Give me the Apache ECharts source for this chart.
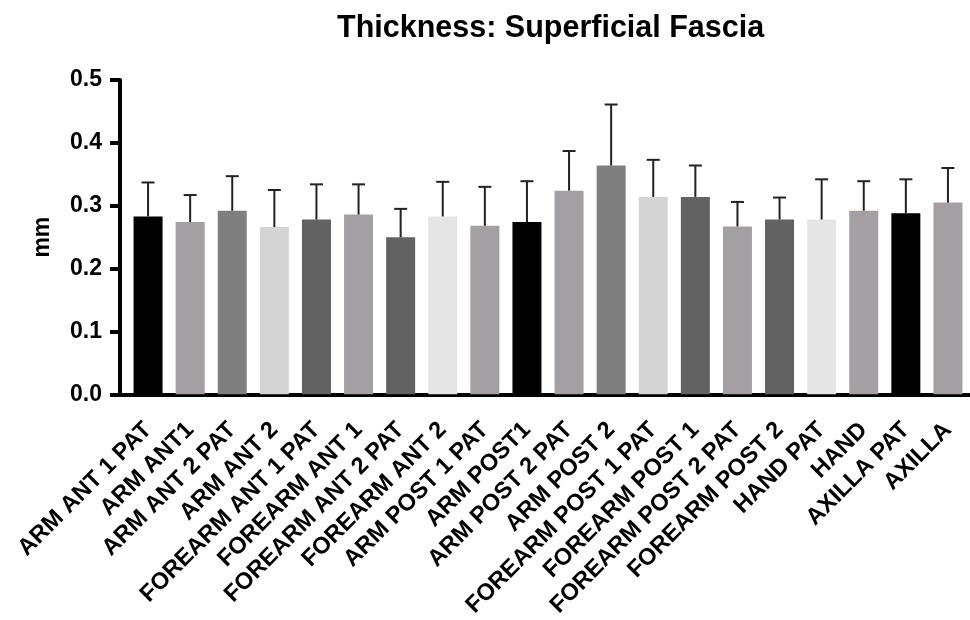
<!DOCTYPE html>
<html>
<head>
<meta charset="utf-8">
<script src="https://cdn.jsdelivr.net/npm/echarts@6/dist/echarts.min.js"></script>
<style>
  html, body { margin: 0; padding: 0; background: #fff; }
  #main { width: 970px; height: 620px; }
</style>
</head>
<body>
<div id="main"></div>
<script>
// site names along the x axis
var categories = ['ARM ANT 1 PAT', 'ARM ANT1', 'ARM ANT 2 PAT', 'ARM ANT 2', 'FOREARM ANT 1 PAT',
  'FOREARM ANT 1', 'FOREARM ANT 2 PAT', 'FOREARM ANT 2', 'ARM POST 1 PAT', 'ARM POST1',
  'ARM POST 2 PAT', 'ARM POST 2', 'FOREARM POST 1 PAT', 'FOREARM POST 1', 'FOREARM POST 2 PAT',
  'FOREARM POST 2', 'HAND PAT', 'HAND', 'AXILLA PAT', 'AXILLA'];
// mean thickness (mm)
var means = [0.283, 0.274, 0.292, 0.266, 0.278, 0.286, 0.250, 0.283, 0.268, 0.274,
  0.324, 0.364, 0.314, 0.314, 0.267, 0.278, 0.278, 0.292, 0.288, 0.305];
// standard deviation (upper whisker only)
var sds = [0.054, 0.043, 0.055, 0.059, 0.056, 0.048, 0.045, 0.055, 0.062, 0.065,
  0.063, 0.097, 0.059, 0.050, 0.039, 0.035, 0.064, 0.047, 0.054, 0.055];
var barColors = ['#000000', '#a39fa3', '#7f7f7f', '#d4d4d4', '#626262', '#a39fa3', '#626262', '#e5e5e5', '#a39fa3', '#000000',
  '#a39fa3', '#7f7f7f', '#d4d4d4', '#626262', '#a39fa3', '#626262', '#e5e5e5', '#a39fa3', '#000000', '#a39fa3'];
var yTicks = { min: 0, max: 0.5, interval: 0.1 };

var font = 'Liberation Sans, Arial, sans-serif';
var chart = echarts.init(document.getElementById('main'));

var barData = means.map(function (m, i) {
  return { value: m, itemStyle: { color: barColors[i] } };
});
var errData = means.map(function (m, i) {
  return [i, m, m + sds[i]];
});

var option = {
  animation: false,
  title: {
    text: 'Thickness: Superficial Fascia',
    left: 332,
    top: 8,
    textStyle: { fontFamily: font, fontWeight: 'bold', fontSize: 30.5, color: '#000' }
  },
  grid: { left: 127, right: 1, top: 80, bottom: 223, containLabel: false },
  // x axis line reaching back to the offset y axis
  graphic: [{
    type: 'rect',
    shape: { x: 118, y: 393, width: 11, height: 4 },
    style: { fill: '#000' }
  }],
  xAxis: {
    type: 'category',
    data: categories,
    axisLine: { lineStyle: { color: '#000', width: 4 } },
    axisTick: { alignWithLabel: true, length: 10, lineStyle: { color: '#000', width: 4 } },
    axisLabel: {
      rotate: 45, interval: 0, margin: 32,
      fontFamily: font, fontWeight: 'bold', fontSize: 23.5, color: '#000'
    }
  },
  yAxis: {
    type: 'value',
    min: yTicks.min, max: yTicks.max, interval: yTicks.interval,
    offset: 7,
    name: 'mm',
    nameLocation: 'middle',
    nameGap: 66,
    nameRotate: 90,
    nameTextStyle: { fontFamily: font, fontWeight: 'bold', fontSize: 23, color: '#000' },
    splitLine: { show: false },
    axisLine: { show: true, lineStyle: { color: '#000', width: 4 } },
    axisTick: { show: true, length: 10, lineStyle: { color: '#000', width: 4 } },
    axisLabel: {
      margin: 18,
      formatter: function (v) { return v.toFixed(1); },
      fontFamily: font, fontWeight: 'bold', fontSize: 23, color: '#000'
    }
  },
  series: [
    {
      type: 'bar',
      data: barData,
      barWidth: 29,
      z: 2
    },
    {
      type: 'custom',
      data: errData,
      z: 3,
      renderItem: function (params, api) {
        var x = api.value(0);
        var lo = api.coord([x, api.value(1)]);
        var hi = api.coord([x, api.value(2)]);
        var half = 6.5;
        var style = { stroke: '#222', lineWidth: 2 };
        return {
          type: 'group',
          children: [
            { type: 'line', shape: { x1: lo[0], y1: lo[1], x2: hi[0], y2: hi[1] }, style: style },
            { type: 'line', shape: { x1: hi[0] - half, y1: hi[1], x2: hi[0] + half, y2: hi[1] }, style: style }
          ]
        };
      }
    }
  ]
};
chart.setOption(option);
</script>
</body>
</html>
